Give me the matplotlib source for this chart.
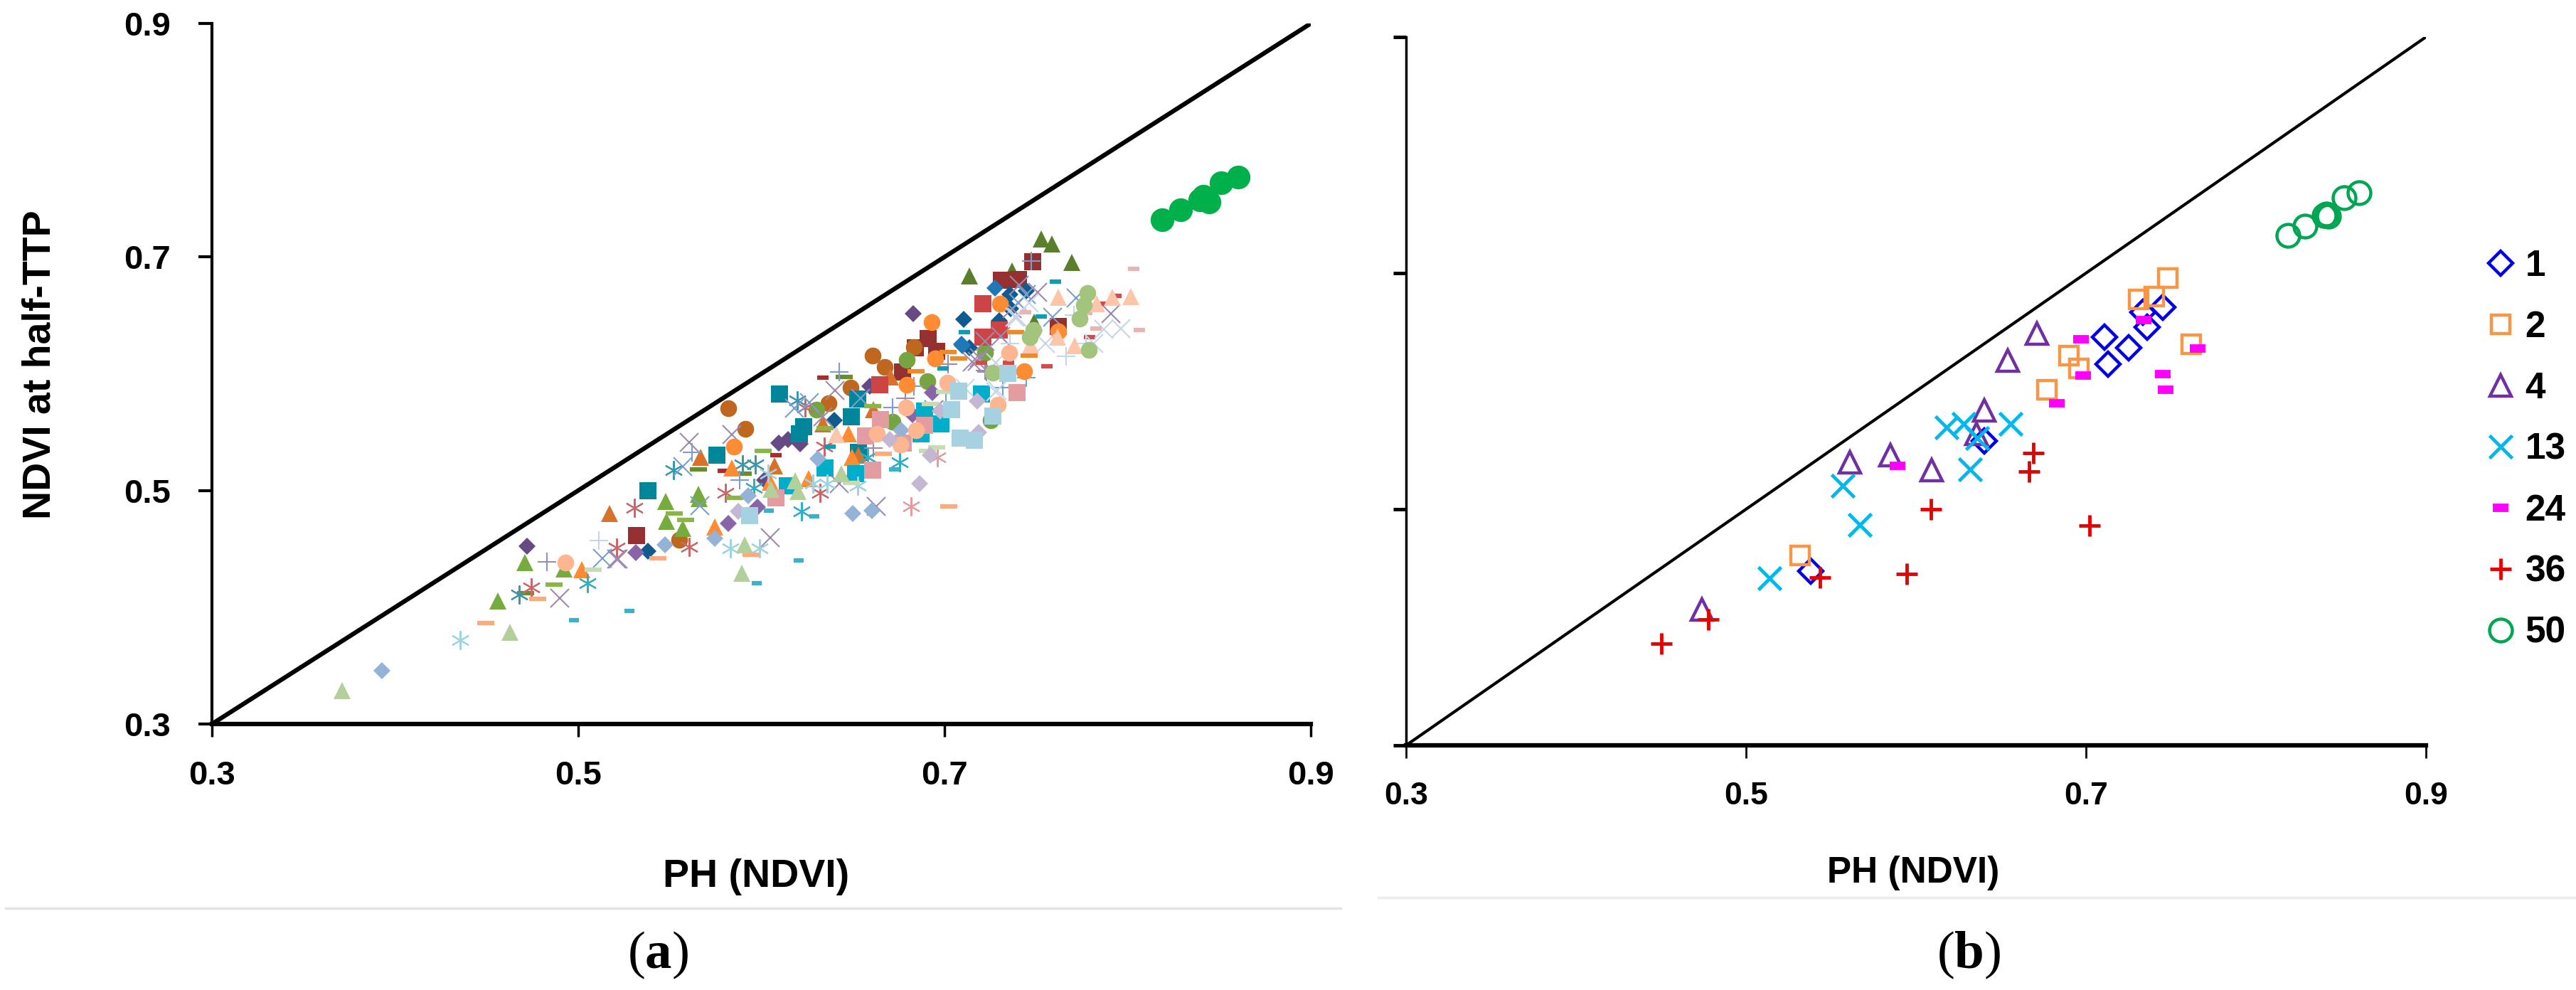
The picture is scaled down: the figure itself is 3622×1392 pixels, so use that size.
"""NDVI at half-TTP against PH (NDVI): all varieties (a) and selected ones (b)."""

import matplotlib

matplotlib.use("Agg")
import matplotlib.pyplot as plt
from matplotlib.lines import Line2D

plt.rcParams["font.family"] = ["Liberation Sans", "DejaVu Sans"]
plt.rcParams["mathtext.fontset"] = "custom"
plt.rcParams["mathtext.bf"] = "Liberation Serif:bold"

W, H = 3622, 1392
TICKS = [0.3, 0.5, 0.7, 0.9]
TICK_LABELS = ["0.3", "0.5", "0.7", "0.9"]
X_LABEL = "PH (NDVI)"
Y_LABEL = "NDVI at half-TTP"

# panel (a), squares
teal_sq_x = [.538, .5756, .6098, .6232, .6206, .6527, .649, .6532]
teal_sq_y = [.4996, .5305, .5828, .5549, .5488, .5782, .5634, .5325]
darkred_sq_x = [.5319, .6769, .748, .7312, .7402, .7622, .691, .6956, .684]
darkred_sq_y = [.4614, .6016, .6961, .6799, .6809, .6406, .63, .6189, .622]
red_sq_x = [.6646, .7208, .7299, .7208]
red_sq_y = [.5908, .6602, .6372, .6311]
cyan_sq_x = [.7202, .6892, .6982, .6348, .6516, .6872, .6141]
cyan_sq_y = [.5829, .568, .5569, .5193, .5142, .5487, .5041]
pink_sq_x = [.7397, .6652, .6568, .6892, .6775, .6607, .608]
pink_sq_y = [.5837, .5609, .5467, .5558, .5406, .5172, .494]
ltblue_sq_x = [.7077, .7038, .7086, .7164, .7265, .7345, .5934]
ltblue_sq_y = [.5849, .5691, .5451, .543, .564, .6006, .4787]

# panel (a), diamonds
dkpurple_di_x = [.6096, .6147, .6212, .6018, .4722, .6828, .6594]
dkpurple_di_y = [.5407, .5437, .5397, .5092, .4523, .6514, .5894]
navy_di_x = [.5381, .6397, .7105, .7357, .7363, .7448, .7137, .7299]
navy_di_y = [.4482, .5603, .6467, .6677, .6555, .6707, .622, .6453]
blue_di_x = [.7275, .7092, .7099]
blue_di_y = [.6734, .625, .624]
purple_di_x = [.5316, .5821, .5977, .6934, .6827]
purple_di_y = [.4468, .4716, .4858, .5839, .565]
corn_di_x = [.5474, .5746, .593, .6309, .6762, .65, .6604, .393]
corn_di_y = [.4537, .459, .4954, .5274, .5518, .4806, .4827, .3456]
lav_di_x = [.5872, .7177, .67, .6924, .6863, .7187, .6976]
lav_di_y = [.4824, .5768, .5437, .5304, .506, .5497, .568]

# panel (a), triangles
dkgreen_tr_x = [.7528, .7587, .7697, .737, .7134, .7489]
dkgreen_tr_y = [.7154, .711, .6955, .688, .6835, .6443]
green_tr_x = [.5478, .5656, .566, .5483, .5571, .4708, .4563, .4924]
green_tr_y = [.4909, .497, .4929, .4736, .4675, .438, .4055, .433]
dkorange_tr_x = [.517, .5668, .607, .6335, .6613, .653, .6704]
dkorange_tr_y = [.4803, .5285, .5214, .5569, .569, .5304, .5975]
orange_tr_x = [.584, .605, .5746, .6257, .6475, .6497, .5019]
orange_tr_y = [.5193, .5072, .4685, .5102, .5487, .5284, .432]
peach_tr_x = [.641, .7622, .7832, .7916, .8017, .7616, .7709, .7471]
peach_tr_y = [.5477, .6656, .6602, .6652, .6663, .6311, .624, .6244]
ltgreen_tr_x = [.6053, .6186, .6199, .5908, .4629, .3711, .5895, .6436]
ltgreen_tr_y = [.501, .5082, .499, .4533, .3785, .3289, .4289, .5142]

# panel (a), circles
brown_ci_x = [.5821, .5912, .6607, .6672, .6487, .6367, .5552, .6833]
brown_ci_y = [.5706, .5525, .6154, .6056, .588, .5747, .4578, .6229]
green_ci_x = [.63, .6717, .6795, .6905, .7222, .7254]
green_ci_y = [.5695, .5589, .6121, .5935, .6182, .5599]
orange_ci_x = [.5852, .6795, .695, .7435, .7301, .6932, .6949, .7622]
orange_ci_y = [.5376, .5904, .6128, .602, .6602, .6443, .6128, .6362]
peach_ci_x = [.6792, .6633, .6844, .676, .7015, .729, .7355, .493]
peach_ci_y = [.5711, .5483, .5514, .5392, .5924, .5735, .6178, .438]
ltgreen_ci_x = [.778, .7761, .7739, .7486, .7467, .7787, .7264]
ltgreen_ci_y = [.6691, .6585, .6473, .6372, .6311, .6203, .6012]
bright_ci_x = [.819, .8289, .8394, .8443, .8413, .8512, .8602]
bright_ci_y = [.7321, .7403, .749, .747, .752, .7638, .7683]

# panel (a), crosses
purple_x_x = [.5604, .5837, .6402, .751, .7907, .7367, .7409, .6626, .605, .5209,
              .49, .5217, .6426, .7221, .7178, .7189, .6334, .6943, .7305, .715]
purple_x_y = [.5411, .5478, .5857, .6697, .6514, .6555, .6758, .4867, .4594, .4411,
              .4076, .4411, .506, .628, .6108, .6138, .563, .569, .6321, .6098]
blue_x_x = [.5571, .5666, .5131, .618, .6542, .759, .7448, .7402, .6263, .772]
blue_x_y = [.5204, .4868, .4421, .5702, .5792, .6484, .6677, .6606, .5752, .6646]
ltblue_x_x = [.7965, .7868, .7817, .7551, .7396, .7286, .728, .7461, .7383, .728, .7111]
ltblue_x_y = [.6386, .6382, .626, .626, .6484, .5854, .5843, .6606, .6484, .6097, .5874]

# panel (a), asterisks
teal_as_x = [.552, .5899, .5966, .6195, .4678]
teal_as_y = [.5173, .5224, .5224, .5773, .4106]
cyan_as_x = [.6219, .6756, .5049, .596, .6581]
cyan_as_y = [.4824, .5243, .4208, .5021, .5284]
red_as_x = [.5306, .5209, .5606, .5804, .6345, .6322, .4742, .6237]
red_as_y = [.4852, .4513, .4517, .498, .5376, .4979, .4167, .5711]
pink_as_x = [.6818, .6963]
pink_as_y = [.4861, .5284]
ltblue_as_x = [.583, .599, .4355, .6527, .6361, .6037, .6283]
ltblue_as_y = [.4502, .4502, .372, .504, .506, .5142, .5061]

# panel (a), plus signs
blue_pl_x = [.5882, .5623, .6426, .6717, .7319, .7448, .7008, .6833, .7474]
blue_pl_y = [.5092, .5326, .6016, .5711, .5884, .5965, .5833, .5894, .6967]
lt_pl_x = [.5112, .7664, .7707, .7771, .7357]
lt_pl_y = [.4574, .6148, .6504, .626, .626]
purple_pl_x = [.4831, .6788, .7021, .7228, .7221, .6613]
purple_pl_y = [.4387, .5792, .6081, .6016, .6026, .5365]

# panel (a), dashes
orange_da_x = [.6846, .7079, .7389, .7461, .7021]
orange_da_y = [.6022, .6134, .6356, .6158, .6184]
peach_da_x = [.6665, .7025, .5435, .5943, .4494, .4777]
peach_da_y = [.5315, .4863, .4421, .4452, .3862, .4071]
green_da_x = [.6011, .5523, .5588, .5856, .6348, .6607, .4867]
green_da_y = [.5342, .4803, .4746, .4939, .5534, .5721, .4193]
dkgreen_da_x = [.5656, .6454, .4712, .5901]
dkgreen_da_y = [.5179, .5975, .4122, .5143]
ltgreen_da_x = [.6924, .6956, .649, .6905, .5083, .7]
ltgreen_da_y = [.5741, .5369, .5067, .5341, .432, .5843]
dkred_da_x = [.6335, .608, .5791]
dkred_da_y = [.5965, .5301, .5167]
red_da_x = [.7202, .756, .7791, .7855, .7937, .7351]
red_da_y = [.6097, .6063, .6315, .6602, .6667, .6093]
pink_da_x = [.8034, .7441, .7778, .7829, .8065]
pink_da_y = [.69, .6524, .652, .6386, .6372]
teal_da_x = [.7607, .7528, .7108, .6374, .6991]
teal_da_y = [.6789, .649, .6358, .5376, .6046]
cyan_da_x = [.4976, .5281, .5976, .6041, .629, .6723, .6203]
cyan_da_y = [.3889, .397, .4208, .4828, .4777, .5178, .4401]

# panel (b), one list per class
b_labels = ["1", "2", "4", "13", "24", "36", "50"]
b1_x = [.745, .7335, .736, .711, .725, .713, .64, .538]
b1_y = [.671, .667, .654, .646, .637, .623, .558, .4476]
b2_x = [.748, .731, .74, .762, .69, .696, .677, .532]
b2_y = [.696, .678, .68, .64, .63, .619, .601, .461]
b4_x = [.671, .654, .64, .6356, .585, .561, .609, .474]
b4_y = [.649, .626, .584, .564, .546, .54, .533, .415]
b13_x = [.6556, .618, .628, .636, .632, .557, .567, .514]
b13_y = [.572, .569, .572, .56, .534, .52, .487, .4416]
b24_x = [.7338, .697, .7658, .6984, .745, .747, .683, .589]
b24_y = [.66, .644, .636, .613, .6144, .601, .59, .537]
b36_x = [.669, .6664, .6086, .702, .5435, .5946, .478, .45]
b36_y = [.5475, .532, .5003, .486, .442, .445, .4066, .386]
b50_x = [.8188, .829, .84, .8416, .8427, .8517, .8607]
b50_y = [.732, .74, .7486, .7497, .748, .764, .768]

ASTERISK = (6, 2, 0)


def place_axes(fig, x0, x1, top, bottom):
    ax = fig.add_axes([x0 / W, 1 - bottom / H, (x1 - x0) / W, (bottom - top) / H])
    ax.set_xlim(0.3, 0.9)
    ax.set_ylim(0.3, 0.9)
    ax.patch.set_alpha(0)
    ax.spines["top"].set_visible(False)
    ax.spines["right"].set_visible(False)
    ax.set_xticks(TICKS)
    ax.set_yticks(TICKS)
    return ax


def solid(ax, x, y, marker, color, ms):
    ax.plot(x, y, ls="none", marker=marker, ms=ms, mfc=color, mec=color, mew=0, clip_on=False)


def thin(ax, x, y, marker, color, ms=19):
    ax.plot(x, y, ls="none", marker=marker, ms=ms, mfc="none", mec=color, mew=1.5, clip_on=False)


def dash(ax, x, y, color, ms=17, mew=4.5):
    ax.plot(x, y, ls="none", marker="_", ms=ms, mec=color, mew=mew, clip_on=False)


def draw_panel_a(ax):
    ax.plot([0.3, 0.9], [0.3, 0.9], color="black", lw=4.5, zorder=1)
    sq, di, tr, ci = 17, 12, 17, 17

    # dark shades first, the pale ones end up on top as in the original
    solid(ax, dkgreen_tr_x, dkgreen_tr_y, "^", "#5a7f2b", tr)
    solid(ax, darkred_sq_x, darkred_sq_y, "s", "#943030", sq)
    solid(ax, navy_di_x, navy_di_y, "D", "#0f5a8e", di)
    solid(ax, dkpurple_di_x, dkpurple_di_y, "D", "#664a84", di)
    solid(ax, brown_ci_x, brown_ci_y, "o", "#bf661f", ci)
    solid(ax, teal_sq_x, teal_sq_y, "s", "#00859b", sq)
    solid(ax, dkorange_tr_x, dkorange_tr_y, "^", "#d8712a", tr)
    dash(ax, dkgreen_da_x, dkgreen_da_y, "#678d30")
    dash(ax, dkred_da_x, dkred_da_y, "#a82e2e", ms=11)
    solid(ax, green_tr_x, green_tr_y, "^", "#76ab3e", tr)
    solid(ax, green_ci_x, green_ci_y, "o", "#76a440", ci)
    solid(ax, blue_di_x, blue_di_y, "D", "#1f78b8", di)
    solid(ax, red_sq_x, red_sq_y, "s", "#cc4444", sq)
    thin(ax, teal_as_x, teal_as_y, ASTERISK, "#3a97ac")
    thin(ax, red_as_x, red_as_y, ASTERISK, "#c9686a")
    thin(ax, purple_x_x, purple_x_y, "x", "#9d8ab0")
    thin(ax, blue_x_x, blue_x_y, "x", "#7a9fcd")
    thin(ax, blue_pl_x, blue_pl_y, "+", "#7a9fcd")
    thin(ax, purple_pl_x, purple_pl_y, "+", "#9d8ab0")
    dash(ax, green_da_x, green_da_y, "#8ab547")
    dash(ax, orange_da_x, orange_da_y, "#ee8a2c")
    dash(ax, red_da_x, red_da_y, "#d24a4a", ms=11)
    dash(ax, teal_da_x, teal_da_y, "#0f9db5", ms=11)
    solid(ax, orange_tr_x, orange_tr_y, "^", "#ff8c33", tr)
    solid(ax, orange_ci_x, orange_ci_y, "o", "#ff8c33", ci)
    solid(ax, purple_di_x, purple_di_y, "D", "#8864a8", di)
    solid(ax, cyan_sq_x, cyan_sq_y, "s", "#00aec9", sq)
    thin(ax, cyan_as_x, cyan_as_y, ASTERISK, "#30aec6")
    dash(ax, cyan_da_x, cyan_da_y, "#3eb1ca", ms=10)
    solid(ax, pink_sq_x, pink_sq_y, "s", "#e39da0", sq)
    solid(ax, corn_di_x, corn_di_y, "D", "#95b3d7", di)
    thin(ax, pink_as_x, pink_as_y, ASTERISK, "#e39da0")
    thin(ax, ltblue_as_x, ltblue_as_y, ASTERISK, "#9ed3e2")
    thin(ax, ltblue_x_x, ltblue_x_y, "x", "#c6d6ea")
    thin(ax, lt_pl_x, lt_pl_y, "+", "#c6d6ea")
    dash(ax, peach_da_x, peach_da_y, "#fdaa7c")
    dash(ax, ltgreen_da_x, ltgreen_da_y, "#c6dcb5")
    dash(ax, pink_da_x, pink_da_y, "#e8b4b5", ms=11)
    solid(ax, peach_tr_x, peach_tr_y, "^", "#fdc6aa", tr)
    solid(ax, ltgreen_tr_x, ltgreen_tr_y, "^", "#b3d09b", tr)
    solid(ax, ltgreen_ci_x, ltgreen_ci_y, "o", "#a3c47c", ci)
    solid(ax, peach_ci_x, peach_ci_y, "o", "#fdb68f", ci)
    solid(ax, lav_di_x, lav_di_y, "D", "#c4b7d3", di)
    solid(ax, ltblue_sq_x, ltblue_sq_y, "s", "#a6d1e1", sq)
    solid(ax, bright_ci_x, bright_ci_y, "o", "#00b04a", 24)

    ax.spines["left"].set_linewidth(3)
    ax.spines["bottom"].set_linewidth(4.5)
    ax.tick_params(axis="x", length=13, width=2.5, pad=24)
    ax.tick_params(axis="y", length=14, width=3, pad=28)
    ax.set_xticklabels(TICK_LABELS, fontsize=34, fontweight="bold")
    ax.set_yticklabels(TICK_LABELS, fontsize=34, fontweight="bold")


def draw_panel_b(ax):
    ax.plot([0.3, 0.9], [0.3, 0.9], color="black", lw=3, zorder=1)
    mew = 3.2
    ax.plot(b1_x, b1_y, ls="none", marker="D", ms=17, mfc="none", mec="#0000e6", mew=mew, label=b_labels[0])
    ax.plot(b2_x, b2_y, ls="none", marker="s", ms=19, mfc="none", mec="#f79646", mew=mew, label=b_labels[1])
    ax.plot(b4_x, b4_y, ls="none", marker="^", ms=22, mfc="none", mec="#7030a0", mew=mew, label=b_labels[2])
    ax.plot(b13_x, b13_y, ls="none", marker="x", ms=23, mec="#00b9ec", mew=3.5, label=b_labels[3])
    ax.plot(b24_x, b24_y, ls="none", marker="_", ms=16, mec="#ff00ff", mew=8.5, label=b_labels[4])
    ax.plot(b36_x, b36_y, ls="none", marker="+", ms=22, mec="#e60000", mew=3.5, label=b_labels[5])
    ax.plot(b50_x, b50_y, ls="none", marker="o", ms=23, mfc="none", mec="#00a651", mew=mew, label=b_labels[6])

    ax.spines["left"].set_linewidth(2.5)
    ax.spines["bottom"].set_linewidth(4.5)
    ax.tick_params(axis="x", length=13, width=2, pad=24)
    ax.tick_params(axis="y", length=13, width=3.5, labelleft=False)
    ax.set_xticklabels(TICK_LABELS, fontsize=32, fontweight="bold")

    handles = [h for h in ax.get_lines() if not h.get_label().startswith("_")]
    ax.legend(
        handles=handles, loc="upper left", bbox_to_anchor=(3494 / W, 1 - 350 / H),
        bbox_transform=ax.figure.transFigure, frameon=False, numpoints=1,
        prop={"size": 37, "weight": "bold"}, labelspacing=0.72, handlelength=0.85,
        handletextpad=0.25, borderpad=0, borderaxespad=0,
    )


def main():
    fig = plt.figure(figsize=(W / 100, H / 100), dpi=100, facecolor="white")

    ax_a = place_axes(fig, 298, 1843, 33, 1018)
    draw_panel_a(ax_a)
    ax_b = place_axes(fig, 1977, 3411, 52, 1048)
    draw_panel_b(ax_b)

    fig.text(1063 / W, 1 - 1233 / H, X_LABEL, fontsize=40, fontweight="bold", ha="center", va="center")
    fig.text(2690 / W, 1 - 1227 / H, X_LABEL, fontsize=37, fontweight="bold", ha="center", va="center")
    fig.text(57 / W, 1 - 513 / H, Y_LABEL, fontsize=40, fontweight="bold", rotation=90, ha="center", va="center")

    # grey rules under the panels, then the panel letters
    fig.add_artist(Line2D([8 / W, 1885 / W], [1 - 1277 / H] * 2, color="#e4e4e4", lw=2.5))
    fig.add_artist(Line2D([1938 / W, 1], [1 - 1262 / H] * 2, color="#ececec", lw=2.5))
    for x_pos, letter in ((925, "a"), (2768, "b")):
        fig.text(x_pos / W, 1 - 1343 / H, rf"($\mathbf{{{letter}}}$)", family="Liberation Serif",
                 fontsize=54, ha="center", va="center")

    fig.savefig("out.png", dpi=100)
    plt.close(fig)


if __name__ == "__main__":
    main()
